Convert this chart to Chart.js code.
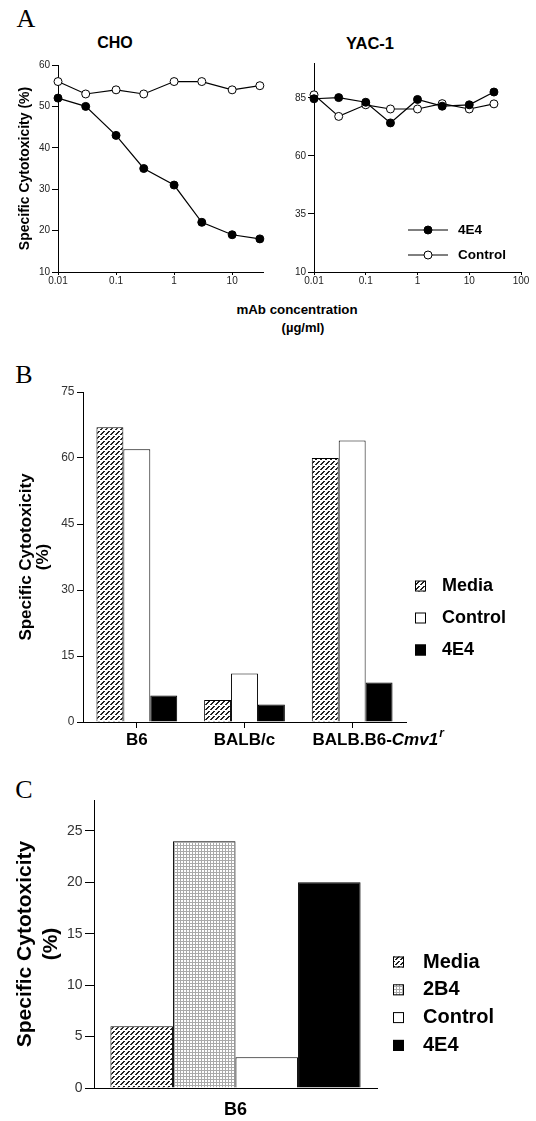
<!DOCTYPE html>
<html>
<head>
<meta charset="utf-8">
<title>4E4 blocking of NK cytotoxicity</title>
<script src="https://cdn.jsdelivr.net/npm/chart.js@4.4.1/dist/chart.umd.min.js"></script>
<style>
  html, body { margin: 0; padding: 0; background: #fff; }
  #fig { position: relative; width: 536px; height: 1121px; background: #fff; overflow: hidden; }
  #fig canvas { position: absolute; }
  .lbl { position: absolute; transform: translate(-50%, -50%); white-space: nowrap; line-height: 1;
         font-family: 'Liberation Sans', Arial, sans-serif; font-weight: bold; color: #000; }
  .panel { font-family: 'Liberation Serif', 'Times New Roman', serif; font-weight: normal; font-size: 26px; }
</style>
</head>
<body>
<div id="fig">
  <div class="lbl panel" style="left:26px;top:19px">A</div>
  <div class="lbl" style="left:115px;top:43px;font-size:16px">CHO</div>
  <div class="lbl" style="left:370px;top:43px;font-size:16.5px">YAC-1</div>
  <div class="lbl" style="left:297px;top:310px;font-size:13.3px">mAb concentration</div>
  <div class="lbl" style="left:303px;top:327px;font-size:13px">(µg/ml)</div>
  <div class="lbl panel" style="left:24px;top:375px">B</div>
  <div class="lbl panel" style="left:24px;top:790px">C</div>
  <canvas id="cho" width="268" height="300" style="left:0;top:0"></canvas>
  <canvas id="yac" width="268" height="300" style="left:268px;top:0"></canvas>
  <canvas id="strains" width="536" height="395" style="left:0;top:370px"></canvas>
  <canvas id="b6" width="536" height="351" style="left:0;top:770px"></canvas>
</div>
<script>
const FONT = "'Liberation Sans', Arial, sans-serif";

// --- panel A : mAb titration ---
const concentrations = [0.01, 0.03, 0.1, 0.3, 1, 3, 10, 30];
const cho4E4 = [52, 50, 43, 35, 31, 22, 19, 18];
const choControl = [56, 53, 54, 53, 56, 56, 54, 55];
const yac4E4 = [84.6, 85.1, 83.1, 74.2, 84.3, 81.4, 82, 87.5];
const yacControl = [86.3, 77, 82, 80.2, 80.2, 82.5, 80.2, 82.4];
const choConcTicks = [0.01, 0.1, 1, 10];
const yacConcTicks = [0.01, 0.1, 1, 10, 100];
const choTicks = [10, 20, 30, 40, 50, 60];
const yacTicks = [10, 35, 60, 85];

// --- panel B : strains ---
const strainsB = ['B6', 'BALB/c', 'BALB.B6-Cmv1r'];
const mediaB = [67, 5, 60];
const controlB = [62, 11, 64];
const mab4E4B = [6, 4, 9];
const ticksB = [0, 15, 30, 45, 60, 75];

// --- panel C : B6 with 2B4 ---
const strainsC = ['B6'];
const mediaC = [6];
const mab2B4C = [24];
const controlC = [3];
const mab4E4C = [20];
const ticksC = [0, 5, 10, 15, 20, 25];

Chart.defaults.font.family = FONT;
Chart.defaults.color = '#000';

// fill pattern dari tile kecil
function tile(size, draw) {
    const c = document.createElement('canvas');
    c.width = size;
    c.height = size;
    const g = c.getContext('2d');
    g.fillStyle = '#fff';
    g.fillRect(0, 0, size, size);
    draw(g);
    return g.createPattern(c, 'repeat');
}

// garis miring putus-putus (Media)
const hatch = tile(5, g => {
    g.fillStyle = '#222';
    for (let i = 0; i < 4; i++) {
        g.fillRect(i, 4 - i, 1, 1);
        g.fillRect(i + 1, 4 - i, 1, 1);
    }
});

// kisi halus (2B4)
const dots = tile(3, g => {
    g.fillStyle = '#aaa';
    g.fillRect(0, 0, 3, 1);
    g.fillRect(0, 0, 1, 3);
});

function fixTicks(values) {
    return scale => { scale.ticks = values.map(v => ({ value: v })); };
}
function fixWidth(w) {
    return scale => { scale.width = w; };
}
function fixHeight(h) {
    return scale => { scale.height = h; };
}

const axisBorder = { display: true, color: '#000', width: 1 };

// legend di dalam / samping plot
const insetLegend = {
    id: 'insetLegend',
    afterDraw(chart, args, opts) {
        if (!opts.kind) return;
        const ctx = chart.ctx;
        ctx.save();
        ctx.font = opts.font;
        ctx.textBaseline = 'middle';
        ctx.textAlign = 'left';
        chart.data.datasets.forEach((ds, i) => {
            const y = opts.y + i * opts.gap;
            ctx.lineWidth = 1;
            ctx.strokeStyle = '#000';
            if (opts.kind === 'line') {
                ctx.beginPath();
                ctx.moveTo(opts.x, y);
                ctx.lineTo(opts.x + opts.size, y);
                ctx.stroke();
                ctx.beginPath();
                ctx.arc(opts.x + opts.size / 2, y, ds.pointRadius, 0, Math.PI * 2);
                ctx.fillStyle = ds.pointBackgroundColor;
                ctx.fill();
                ctx.stroke();
            } else {
                const s = opts.size;
                ctx.fillStyle = ds.backgroundColor;
                ctx.fillRect(opts.x, y - s / 2, s, s);
                ctx.strokeRect(opts.x + 0.5, y - s / 2 + 0.5, s - 1, s - 1);
            }
            ctx.fillStyle = '#000';
            ctx.fillText(ds.label, opts.textX, y);
        });
        ctx.restore();
    }
};

// nama alel miring + superscript setelah label strain
const ALLELE = /(Cmv1)(r)$/;
const alleleLabel = {
    id: 'alleleLabel',
    afterDraw(chart) {
        const sc = chart.scales.x;
        const ctx = chart.ctx;
        const t = sc.options.ticks;
        const size = t.font.size;
        const y = sc.top + sc.options.grid.tickLength + t.padding + size * 0.6;
        chart.data.labels.forEach((lab, i) => {
            const m = ALLELE.exec(lab);
            if (!m) return;
            const base = lab.replace(ALLELE, '');
            ctx.save();
            ctx.fillStyle = '#000';
            ctx.textBaseline = 'middle';
            ctx.textAlign = 'left';
            ctx.font = 'bold ' + size + 'px ' + FONT;
            const x0 = sc.getPixelForTick(i) + ctx.measureText(base).width / 2;
            ctx.font = 'italic bold ' + size + 'px ' + FONT;
            ctx.fillText(m[1], x0, y);
            const w = ctx.measureText(m[1]).width;
            ctx.font = 'italic bold ' + Math.round(size * 0.7) + 'px ' + FONT;
            ctx.fillText(m[2], x0 + w + 1, y - size * 0.38);
            ctx.restore();
        });
    }
};

function lineSet(label, ys, fill) {
    return {
        label: label,
        data: concentrations.map((x, i) => ({ x: x, y: ys[i] })),
        borderColor: '#000',
        borderWidth: 1.2,
        pointBackgroundColor: fill,
        pointBorderColor: '#000',
        pointBorderWidth: 1,
        pointRadius: 4,
        tension: 0,
        clip: false
    };
}

function titrationChart(id, opt) {
    return new Chart(document.getElementById(id), {
        type: 'line',
        data: {
            datasets: [
                lineSet('4E4', opt.e4, '#000'),
                lineSet('Control', opt.control, '#fff')
            ]
        },
        options: {
            responsive: false,
            animation: false,
            devicePixelRatio: 1,
            layout: { padding: opt.padding },
            plugins: {
                legend: { display: false },
                tooltip: { enabled: false },
                insetLegend: opt.legend || {}
            },
            scales: {
                x: {
                    type: 'logarithmic',
                    min: 0.01,
                    max: opt.xMax,
                    afterBuildTicks: fixTicks(opt.xTicks),
                    afterFit: fixHeight(28),
                    border: axisBorder,
                    grid: { drawOnChartArea: false, tickLength: 3, color: '#000' },
                    ticks: { font: { size: 10, lineHeight: 1 }, padding: 1, color: '#222', maxRotation: 0,
                             callback: v => String(v) }
                },
                y: {
                    min: opt.yMin,
                    max: opt.yMax,
                    afterBuildTicks: fixTicks(opt.yTicks),
                    afterFit: fixWidth(opt.yWidth),
                    border: axisBorder,
                    grid: { drawOnChartArea: false, tickLength: 6, color: '#000' },
                    ticks: { font: { size: 10 }, padding: 2, color: '#222' },
                    title: opt.yTitle || { display: false }
                }
            }
        },
        plugins: [insetLegend]
    });
}

titrationChart('cho', {
    e4: cho4E4, control: choControl,
    padding: { top: 65, right: 3, bottom: 0, left: 0 },
    xMax: 34, xTicks: choConcTicks,
    yMin: 10, yMax: 60, yTicks: choTicks, yWidth: 58,
    yTitle: { display: true, text: 'Specific Cytotoxicity (%)', color: '#000',
              font: { size: 14, weight: 'bold' }, padding: { top: 16.6, bottom: 0 } }
});

titrationChart('yac', {
    e4: yac4E4, control: yacControl,
    padding: { top: 63, right: 15, bottom: 0, left: 0 },
    xMax: 100, xTicks: yacConcTicks,
    yMin: 10, yMax: 100, yTicks: yacTicks, yWidth: 46,
    legend: { kind: 'line', x: 140, size: 40, textX: 190, y: 230, gap: 25,
              font: 'bold 13.5px ' + FONT }
});

function barOptions(opt) {
    return {
        responsive: false,
        animation: false,
        devicePixelRatio: 1,
        layout: { padding: opt.padding },
        datasets: {
            bar: { borderColor: '#000', borderWidth: 1, barPercentage: 1,
                   categoryPercentage: opt.groupWidth }
        },
        plugins: {
            legend: { display: false },
            tooltip: { enabled: false },
            insetLegend: opt.legend
        },
        scales: {
            x: {
                afterFit: fixHeight(opt.xHeight),
                border: axisBorder,
                grid: opt.xGrid,
                ticks: { font: { size: opt.xFont, weight: 'bold' }, padding: opt.xPad, color: '#000',
                         callback: (v, i) => opt.labels[i].replace(ALLELE, '') }
            },
            y: {
                min: 0,
                max: opt.yMax,
                afterBuildTicks: fixTicks(opt.yTicks),
                afterFit: fixWidth(opt.yWidth),
                border: axisBorder,
                grid: { drawOnChartArea: false, tickLength: opt.yTickLen, color: '#000' },
                ticks: { font: { size: opt.yFont }, padding: 2.5, color: '#333' },
                title: {
                    display: true,
                    text: ['Specific Cytotoxicity', '(%)'],
                    color: '#000',
                    font: { size: opt.titleSize, weight: 'bold', lineHeight: opt.titleLine },
                    padding: { top: opt.titlePad, bottom: 0 }
                }
            }
        }
    };
}

new Chart(document.getElementById('strains'), {
    type: 'bar',
    data: {
        labels: strainsB,
        datasets: [
            { label: 'Media', data: mediaB, backgroundColor: hatch },
            { label: 'Control', data: controlB, backgroundColor: '#fff' },
            { label: '4E4', data: mab4E4B, backgroundColor: '#000' }
        ]
    },
    options: barOptions({
        labels: strainsB,
        padding: { top: 22, right: 130, bottom: 0, left: 0 },
        groupWidth: 0.75,
        xHeight: 43, xFont: 17, xPad: 2,
        xGrid: { drawOnChartArea: false, offset: false, tickLength: 6, color: '#000' },
        yMax: 75, yTicks: ticksB, yWidth: 83, yTickLen: 6, yFont: 12,
        titleSize: 17, titleLine: 1, titlePad: 17.5,
        legend: { kind: 'box', x: 415, size: 11, textX: 442, y: 216, gap: 32,
                  font: 'bold 18px ' + FONT }
    }),
    plugins: [insetLegend, alleleLabel]
});

new Chart(document.getElementById('b6'), {
    type: 'bar',
    data: {
        labels: strainsC,
        datasets: [
            { label: 'Media', data: mediaC, backgroundColor: hatch },
            { label: '2B4', data: mab2B4C, backgroundColor: dots },
            { label: 'Control', data: controlC, backgroundColor: '#fff' },
            { label: '4E4', data: mab4E4C, backgroundColor: '#000' }
        ]
    },
    options: barOptions({
        labels: strainsC,
        padding: { top: 30, right: 159, bottom: 0, left: 0 },
        groupWidth: 0.884,
        xHeight: 33, xFont: 18, xPad: 11,
        xGrid: { display: false, drawTicks: false },
        yMax: 28, yTicks: ticksC, yWidth: 94, yTickLen: 9, yFont: 14,
        titleSize: 21, titleLine: 1.24, titlePad: 12,
        legend: { kind: 'box', x: 393, size: 11, textX: 423, y: 192, gap: 27.8,
                  font: 'bold 20px ' + FONT }
    }),
    plugins: [insetLegend]
});
</script>
</body>
</html>
